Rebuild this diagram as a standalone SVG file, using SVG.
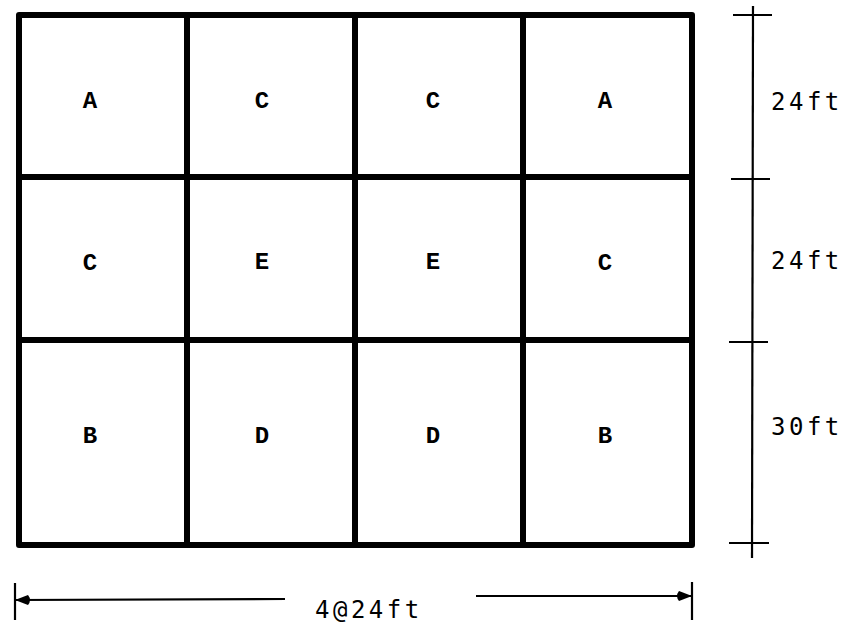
<svg xmlns="http://www.w3.org/2000/svg" width="849" height="625" viewBox="0 0 849 625">
<style>
.grid{stroke:#000;stroke-width:6;fill:none;stroke-linejoin:round}
.dim{stroke:#000;stroke-width:2.2;fill:none}
.cell{font-family:"Liberation Mono","DejaVu Sans Mono",monospace;font-size:24px;font-weight:bold;text-anchor:middle;fill:#000}
.dl{font-family:"DejaVu Sans Mono","Liberation Mono",monospace;font-size:24px;fill:#000;letter-spacing:3.5px}
</style>
<rect width="849" height="625" fill="#fff"/>
<g id="grid">
<rect class="grid" x="19" y="15" width="673" height="530"/>
<line class="grid" x1="187" y1="15" x2="187" y2="545"/>
<line class="grid" x1="355" y1="15" x2="355" y2="545"/>
<line class="grid" x1="523" y1="15" x2="523" y2="545"/>
<line class="grid" x1="19" y1="177" x2="692" y2="177"/>
<line class="grid" x1="19" y1="340" x2="692" y2="340"/>
</g>
<g id="labels">
<text class="cell" x="90" y="108">A</text>
<text class="cell" x="262" y="108">C</text>
<text class="cell" x="433" y="108">C</text>
<text class="cell" x="605" y="108">A</text>
<text class="cell" x="90" y="270">C</text>
<text class="cell" x="262" y="269">E</text>
<text class="cell" x="433" y="269">E</text>
<text class="cell" x="605" y="270">C</text>
<text class="cell" x="90" y="443">B</text>
<text class="cell" x="262" y="443">D</text>
<text class="cell" x="433" y="443">D</text>
<text class="cell" x="605" y="443">B</text>
</g>
<g id="connectors">
<line class="dim" x1="753" y1="6" x2="752" y2="558"/>
<line class="dim" x1="733" y1="15" x2="772" y2="15"/>
<line class="dim" x1="731" y1="179" x2="770" y2="179"/>
<line class="dim" x1="729" y1="342" x2="768" y2="342"/>
<line class="dim" x1="729" y1="543" x2="769" y2="543"/>
<line class="dim" x1="15" y1="583" x2="15" y2="620"/>
<line class="dim" x1="692" y1="582" x2="692" y2="620"/>
<line class="dim" x1="15" y1="600" x2="285" y2="599"/>
<line class="dim" x1="476" y1="596" x2="692" y2="596"/>
<path d="M15 600 L28 595 Q32 600 28 605 Z" fill="#000"/>
<path d="M692 596 L679 591 Q675 596 679 601 Z" fill="#000"/>
</g>
<g id="dims">
<text class="dl" x="771" y="110">24ft</text>
<text class="dl" x="771" y="269">24ft</text>
<text class="dl" x="771" y="435">30ft</text>
<text class="dl" x="315" y="618">4@24ft</text>
</g>
</svg>
